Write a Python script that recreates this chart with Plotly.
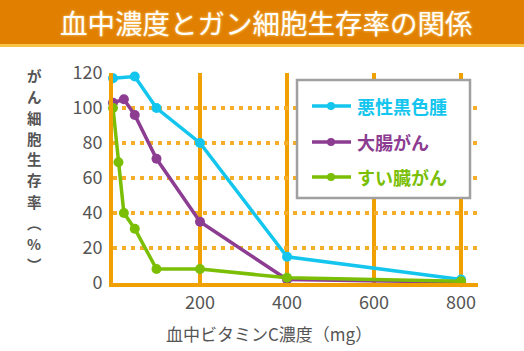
import plotly.graph_objects as go

# Data
x_mel = [0, 50, 100, 200, 400, 800]
y_mel = [117, 118, 100, 80, 15, 2]
x_col = [0, 25, 50, 100, 200, 400, 800]
y_col = [103, 105, 96, 71, 35, 2, 0.5]
x_pan = [0, 12.5, 25, 50, 100, 200, 400, 800]
y_pan = [100, 69, 40, 31, 8, 8, 3, 1]
names = ["悪性黒色腫", "大腸がん", "すい臓がん"]
colors = ["#14C6EE", "#8C3D92", "#7ABF06"]
x_ticks = [200, 400, 600, 800]
y_ticks = [0, 20, 40, 60, 80, 100, 120]

W, H = 524, 351
FONT = "Noto Sans CJK JP"
ORANGE = "#F0A000"
GRAY = "#555555"

def px_x(p):
    return p / W

def px_y(p):
    return (H - p) / H

fig = go.Figure()
series = [(x_mel, y_mel), (x_col, y_col), (x_pan, y_pan)]
for (xs, ys), nm, c in zip(series, names, colors):
    fig.add_trace(go.Scatter(
        x=xs, y=ys, mode="lines+markers", name=nm,
        line=dict(color=c, width=3.5),
        marker=dict(color=c, size=10),
        cliponaxis=False, showlegend=False,
    ))

fig.update_layout(
    width=W, height=H,
    margin=dict(l=0, r=0, t=0, b=0, autoexpand=False),
    paper_bgcolor="white", plot_bgcolor="white",
    font=dict(family=FONT, color=GRAY),
    xaxis=dict(
        domain=[px_x(113), px_x(478)], range=[0, 839], automargin=False,
        tickvals=x_ticks, ticktext=[str(v) for v in x_ticks],
        showgrid=True, gridcolor=ORANGE, gridwidth=3.5,
        showline=True, linecolor=ORANGE, linewidth=4,
        zeroline=False, ticks="",
        tickfont=dict(size=18, color=GRAY),
        fixedrange=True,
    ),
    yaxis=dict(
        domain=[px_y(283), px_y(73)], range=[0, 120], automargin=False,
        tickvals=y_ticks, ticktext=[str(v) for v in y_ticks],
        showgrid=True, gridcolor="#F4AE2A", gridwidth=3.5, griddash="4px,5px",
        showline=True, linecolor=ORANGE, linewidth=4,
        zeroline=False, ticks="outside", ticklen=3, tickcolor="rgba(0,0,0,0)",
        tickfont=dict(size=18, color=GRAY),
        fixedrange=True,
    ),
    showlegend=False,
)

# title bar
fig.add_shape(type="rect", xref="paper", yref="paper",
              x0=0, x1=1, y0=px_y(44), y1=1,
              fillcolor="#E07F00", line=dict(width=0), layer="below")
fig.add_shape(type="rect", xref="paper", yref="paper",
              x0=0, x1=1, y0=px_y(47), y1=px_y(44),
              fillcolor="#F7C447", line=dict(width=0), layer="below")
fig.add_annotation(text="血中濃度とガン細胞生存率の関係", xref="paper", yref="paper",
                   x=px_x(266), y=px_y(22), xanchor="center", yanchor="middle",
                   showarrow=False,
                   font=dict(size=27.5, color="white", family=FONT,
                             shadow="0px 0px 3px #FFD27A"))

# manual legend
fig.add_shape(type="rect", xref="paper", yref="paper",
              x0=px_x(297), x1=px_x(470), y0=px_y(198), y1=px_y(80),
              fillcolor="white", line=dict(color="#A0A0A0", width=2.5), layer="above")
leg_y = [106, 142, 177]
for nm, c, ly in zip(names, colors, leg_y):
    fig.add_shape(type="line", xref="paper", yref="paper",
                  x0=px_x(312), x1=px_x(351), y0=px_y(ly), y1=px_y(ly),
                  line=dict(color=c, width=3.5), layer="above")
    fig.add_shape(type="circle", xref="paper", yref="paper",
                  x0=px_x(327), x1=px_x(335), y0=px_y(ly + 4), y1=px_y(ly - 4),
                  fillcolor=c, line=dict(width=0), layer="above")
    fig.add_annotation(text=f"<b>{nm}</b>", xref="paper", yref="paper",
                       x=px_x(355), y=px_y(ly), xanchor="left", yanchor="middle",
                       showarrow=False, font=dict(size=18, color=c, family=FONT))

# y-axis title (vertical, one character per annotation)
ytitle = ["が", "ん", "細", "胞", "生", "存", "率", "︵", "%", "︶"]
ypos = [75, 96, 117, 138, 159, 180, 201, 222, 243, 264]
for ch, yy in zip(ytitle, ypos):
    fig.add_annotation(text=f"<b>{ch}</b>", xref="paper", yref="paper",
                       x=px_x(34), y=px_y(yy), showarrow=False,
                       xanchor="center", yanchor="middle",
                       font=dict(size=14.5, color=GRAY, family=FONT))

# x-axis title
fig.add_annotation(text="血中ビタミンC濃度（mg）", xref="paper", yref="paper",
                   x=px_x(269), y=px_y(333), xanchor="center", yanchor="middle",
                   showarrow=False,
                   font=dict(size=17, color=GRAY, family=FONT))

fig.write_html("out.html")
